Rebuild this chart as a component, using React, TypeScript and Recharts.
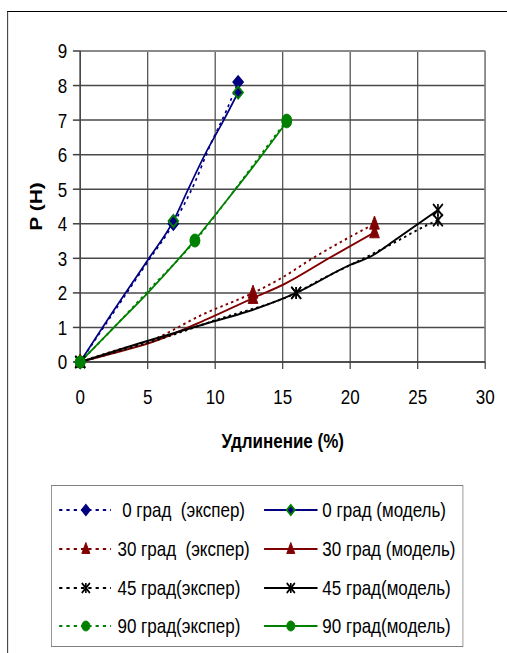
import { CartesianGrid, Line, LineChart, ReferenceLine, XAxis, YAxis } from 'recharts';

// the source picture is an Excel chart squeezed horizontally, so draw wide and squeeze
const SQUEEZE = 0.81;
const W = 626;
const H = 653;
const FONT = '"Liberation Sans", Arial, sans-serif';

const NAVY = '#000080';
const MAROON = '#800000';
const GREEN = '#008000';
const BLACK = '#000000';

const X_TICKS = [0, 5, 10, 15, 20, 25, 30];
const Y_TICKS = [0, 1, 2, 3, 4, 5, 6, 7, 8, 9];

const exp0X = [0, 2.5, 5, 6.9, 8.5, 9.6, 10.8, 11.7];
const exp0Y = [0, 1.45, 2.9, 4.0, 5.2, 6.25, 7.25, 8.1];
const exp0Marks = [0, 3, 7];
const mod0X = [0, 2.5, 5, 6.9, 8, 9.3, 10.5, 11.7];
const mod0Y = [0, 1.5, 2.95, 4.08, 5.0, 6.05, 6.9, 7.8];
const mod0Marks = [0, 3, 7];

const exp30X = [0, 2.5, 5.2, 9.1, 12.8, 15, 17, 19.8, 21.8];
const exp30Y = [0, 0.32, 0.62, 1.38, 2.0, 2.45, 2.95, 3.58, 4.0];
const exp30Marks = [0, 4, 8];
const mod30X = [0, 2.5, 4.9, 9.4, 12.8, 15.1, 18.5, 21.8];
const mod30Y = [0, 0.26, 0.52, 1.24, 1.85, 2.25, 3.02, 3.75];
const mod30Marks = [0, 4, 7];

const exp45X = [0, 3, 5.7, 10.1, 16, 18, 20.3, 23.2, 25.9, 26.5];
const exp45Y = [0, 0.33, 0.64, 1.22, 2.0, 2.42, 2.86, 3.44, 4.0, 4.1];
const exp45Marks = [0, 4, 9];
const mod45X = [0, 4.4, 9.4, 12.4, 16, 20, 21.5, 23.5, 24.9, 26.5];
const mod45Y = [0, 0.54, 1.12, 1.46, 2.0, 2.81, 3.05, 3.58, 3.96, 4.4];
const mod45Marks = [0, 4, 9];

const exp90X = [0, 2.5, 5, 8.5, 11, 13, 15.3];
const exp90Y = [0, 1.0, 2.05, 3.5, 4.75, 5.8, 7.0];
const exp90Marks = [0, 3, 6];
const mod90X = [0, 2.5, 5, 8.5, 10.9, 13.1, 15.3];
const mod90Y = [0, 1.0, 2.0, 3.53, 4.7, 5.8, 6.95];
const mod90Marks = [0, 3, 6];

type Shape = 'diamond' | 'triangle' | 'star' | 'circle';

interface Series {
  key: string;
  name: string;
  xs: number[];
  ys: number[];
  marks: number[];
  color: string;
  dashed: boolean;
  shape: Shape;
  fill: string;
  edge: string;
}

const SERIES: Series[] = [
  { key: 'exp0', name: ' 0 град  (экспер)', xs: exp0X, ys: exp0Y, marks: exp0Marks, color: NAVY, dashed: true, shape: 'diamond', fill: NAVY, edge: NAVY },
  { key: 'mod0', name: '0 град (модель)', xs: mod0X, ys: mod0Y, marks: mod0Marks, color: NAVY, dashed: false, shape: 'diamond', fill: NAVY, edge: GREEN },
  { key: 'exp30', name: '30 град  (экспер)', xs: exp30X, ys: exp30Y, marks: exp30Marks, color: MAROON, dashed: true, shape: 'triangle', fill: MAROON, edge: MAROON },
  { key: 'mod30', name: '30 град (модель)', xs: mod30X, ys: mod30Y, marks: mod30Marks, color: MAROON, dashed: false, shape: 'triangle', fill: MAROON, edge: MAROON },
  { key: 'exp45', name: '45 град(экспер)', xs: exp45X, ys: exp45Y, marks: exp45Marks, color: BLACK, dashed: true, shape: 'star', fill: BLACK, edge: BLACK },
  { key: 'mod45', name: '45 град(модель)', xs: mod45X, ys: mod45Y, marks: mod45Marks, color: BLACK, dashed: false, shape: 'star', fill: BLACK, edge: BLACK },
  { key: 'exp90', name: '90 град(экспер)', xs: exp90X, ys: exp90Y, marks: exp90Marks, color: GREEN, dashed: true, shape: 'circle', fill: GREEN, edge: GREEN },
  { key: 'mod90', name: '90 град(модель)', xs: mod90X, ys: mod90Y, marks: mod90Marks, color: GREEN, dashed: false, shape: 'circle', fill: GREEN, edge: GREEN },
];

function marker(shape: Shape, cx: number, cy: number, r: number, fill: string, edge: string) {
  switch (shape) {
    case 'diamond':
      return (
        <polygon
          points={`${cx},${cy - r} ${cx + r},${cy} ${cx},${cy + r} ${cx - r},${cy}`}
          fill={fill}
          stroke={edge}
          strokeWidth={2}
        />
      );
    case 'triangle':
      return (
        <polygon
          points={`${cx},${cy - r * 1.3} ${cx + r},${cy + r * 0.9} ${cx - r},${cy + r * 0.9}`}
          fill={fill}
          stroke={edge}
          strokeWidth={1}
        />
      );
    case 'star':
      return (
        <g stroke={edge} strokeWidth={2}>
          <line x1={cx - r} y1={cy - r} x2={cx + r} y2={cy + r} />
          <line x1={cx - r} y1={cy + r} x2={cx + r} y2={cy - r} />
          <line x1={cx} y1={cy - r} x2={cx} y2={cy + r} />
        </g>
      );
    default:
      return <ellipse cx={cx} cy={cy} rx={r} ry={r} fill={fill} stroke={edge} strokeWidth={1} />;
  }
}

function Legend() {
  const rows = [24, 63, 102, 140];
  const cols = [
    { x1: 9, x2: 73, mx: 42, tx: 81 },
    { x1: 262, x2: 328, mx: 295, tx: 334 },
  ];
  return (
    <svg
      width={509}
      height={162}
      style={{ position: 'absolute', left: 63, top: 485, border: '1.5px solid #808080', boxSizing: 'border-box', background: '#fff' }}
    >
      {SERIES.map((s, i) => {
        const y = rows[Math.floor(i / 2)];
        const c = cols[i % 2];
        return (
          <g key={s.key}>
            <line
              x1={c.x1}
              x2={c.x2}
              y1={y}
              y2={y}
              stroke={s.color}
              strokeWidth={2}
              strokeDasharray={s.dashed ? '4 5' : undefined}
            />
            {marker(s.shape, c.mx, y, 5, s.fill, s.edge)}
            <text
              x={c.tx}
              y={y}
              dominantBaseline="central"
              fontSize={21}
              fontFamily={FONT}
              fill="#000"
              style={{ whiteSpace: 'pre' }}
            >
              {s.name}
            </text>
          </g>
        );
      })}
    </svg>
  );
}

export default function App() {
  return (
    <div style={{ position: 'absolute', left: 0, top: 0, width: 507, height: H, overflow: 'hidden', background: '#fff' }}>
      <div
        style={{
          position: 'absolute',
          left: 0,
          top: 0,
          width: W,
          height: H,
          transform: `scaleX(${SQUEEZE})`,
          transformOrigin: '0 0',
          fontFamily: FONT,
        }}
      >
        <div
          style={{
            position: 'absolute',
            left: 8.6,
            top: 11,
            width: W,
            height: H,
            borderLeft: '1.5px solid #000',
            borderTop: '1px solid #000',
          }}
        />
        <div style={{ position: 'absolute', left: 0, top: 0 }}>
          <LineChart width={W} height={H} margin={{ top: 51, right: 27, left: 39, bottom: 261 }}>
            <CartesianGrid stroke="#4a4a4a" strokeWidth={1.5} />
            <XAxis
              type="number"
              dataKey="x"
              domain={[0, 30]}
              ticks={X_TICKS}
              height={30}
              tickSize={7}
              tickMargin={20}
              stroke="#404040"
              strokeWidth={1.5}
              tick={{ fontSize: 21, fill: '#000', fontFamily: FONT }}
              allowDuplicatedCategory={false}
              label={{
                value: 'Удлинение (%)',
                position: 'bottom',
                offset: 41,
                fontSize: 21,
                fontWeight: 'bold',
                fill: '#000',
                fontFamily: FONT,
              }}
            />
            <YAxis
              type="number"
              domain={[0, 9]}
              ticks={Y_TICKS}
              width={60}
              tickSize={9}
              tickMargin={7}
              stroke="#404040"
              strokeWidth={1.5}
              tick={{ fontSize: 21, fill: '#000', fontFamily: FONT }}
              label={{
                value: 'P (H)',
                angle: -90,
                position: 'insideLeft',
                offset: 6,
                fontSize: 21,
                fontWeight: 'bold',
                fill: '#000',
                fontFamily: FONT,
                style: { textAnchor: 'middle' },
              }}
            />
            <ReferenceLine y={9} stroke="#8a8a8a" strokeWidth={2} />
            <ReferenceLine x={30} stroke="#8a8a8a" strokeWidth={2} />
            {SERIES.map((s) => (
              <Line
                key={s.key}
                data={s.xs.map((x, i) => ({ x, y: s.ys[i] }))}
                dataKey="y"
                name={s.name}
                type="monotone"
                stroke={s.color}
                strokeWidth={2}
                strokeDasharray={s.dashed ? '3 4' : undefined}
                isAnimationActive={false}
                activeDot={false}
                dot={(p: any) => {
                  const k = `${s.key}-${p.index}`;
                  if (!s.marks.includes(p.index)) return <g key={k} />;
                  return <g key={k}>{marker(s.shape, p.cx, p.cy, 6, s.fill, s.edge)}</g>;
                }}
              />
            ))}
          </LineChart>
        </div>
        <Legend />
      </div>
    </div>
  );
}
